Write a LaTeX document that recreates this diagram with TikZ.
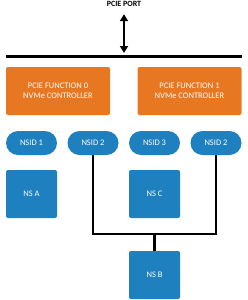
\documentclass[tikz,border=0pt]{standalone}
\usepackage{fontspec}
\setmainfont{Carlito}
\usetikzlibrary{arrows.meta,positioning}
\definecolor{fnorange}{RGB}{232,119,34}
\definecolor{nsblue}{RGB}{30,128,190}

\begin{document}
\begin{tikzpicture}[x=1pt,y=-1pt,
    font=\fontsize{8.5}{10}\selectfont,
    func/.style={fill=fnorange, text=white, rounded corners=2pt, minimum width=104pt,
        minimum height=48pt, align=center, inner sep=0pt},
    nsid/.style={fill=nsblue, text=white, rounded corners=12pt, minimum width=51pt,
        minimum height=24pt, inner sep=0pt},
    nsbox/.style={fill=nsblue, text=white, rounded corners=2pt, minimum width=51pt,
        minimum height=48pt, inner sep=0pt},
    link/.style={line width=2.5pt}]
    \useasboundingbox (0,0) rectangle (248,300);

    % Port and shared bus
    \node[font=\fontsize{8}{9}\selectfont\bfseries] (port) at (124,4) {PCIE PORT};
    \coordinate (busL) at (6,56);
    \coordinate (busR) at (242,56);
    \coordinate (busM) at (124,53);
    \draw[line width=3pt] (busL) -- (busR);
    \draw[line width=2pt, {Triangle[width=8pt,length=7pt]}-{Triangle[width=8pt,length=7pt]}]
        ([yshift=-4pt]port.south) -- (busM);

    % PCIe functions
    \node[func] (fn0) at (58,91) {PCIE FUNCTION 0\\NVMe CONTROLLER};
    \node[func] (fn1) at (189.5,91) {PCIE FUNCTION 1\\NVMe CONTROLLER};

    % Namespace IDs
    \node[nsid] (nsid1) at (31.5,143) {NSID 1};
    \node[nsid] (nsid2a) at (93,143) {NSID 2};
    \node[nsid] (nsid3) at (154.5,143) {NSID 3};
    \node[nsid] (nsid2b) at (216,143) {NSID 2};

    % Namespaces
    \node[nsbox] (nsa) at (31.5,194) {NS A};
    \node[nsbox] (nsc) at (154.5,194) {NS C};
    \node[nsbox] (nsb) at (154.5,275) {NS B};

    % Shared namespace links
    \coordinate (join) at (154.5,234);
    \draw[link] (nsid2a.south) -- (nsid2a.south |- join) -- (nsid2b.south |- join) -- (nsid2b.south);
    \draw[link] (join) -- (nsb.north);
\end{tikzpicture}
\end{document}
